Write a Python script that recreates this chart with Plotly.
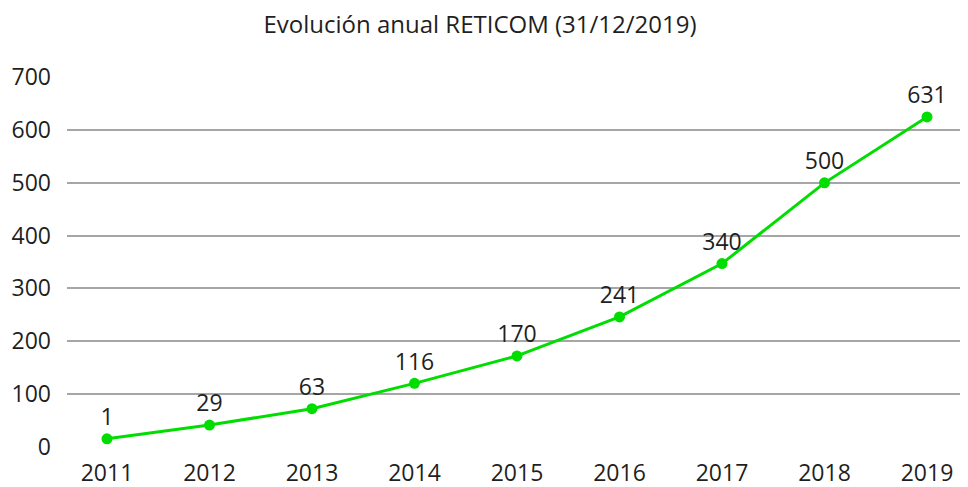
import plotly.graph_objects as go

years = ["2011", "2012", "2013", "2014", "2015", "2016", "2017", "2018", "2019"]
plotted_values = [15, 41, 72, 120, 172, 246, 347, 500, 625]
label_values = ["1", "29", "63", "116", "170", "241", "340", "500", "631"]
y_ticks = [0, 100, 200, 300, 400, 500, 600, 700]

FONT = "Open Sans"
TXT = "#1f1f1f"

# page body has an 8px default margin, so the figure is sized/placed to compensate
W, H = 960, 479

fig = go.Figure()
fig.add_trace(go.Scatter(
    x=years, y=plotted_values,
    mode="lines+markers+text",
    text=label_values,
    textposition="top center",
    textfont=dict(family=FONT, size=23, color=TXT),
    line=dict(color="#00DD00", width=3),
    marker=dict(color="#00DD00", size=11),
    cliponaxis=False,
    hoverinfo="skip",
))

fig.update_layout(
    width=W, height=H,
    margin=dict(l=59, r=0, t=69, b=40),
    paper_bgcolor="white", plot_bgcolor="white",
    showlegend=False,
    title=dict(text="Evolución anual RETICOM (31/12/2019)",
               x=472 / W, xanchor="center", y=1 - 17 / H, yanchor="middle",
               font=dict(family=FONT, size=24, color=TXT)),
    xaxis=dict(type="category", range=[-0.39, 8.4], showgrid=False,
               showline=False, zeroline=False, ticks="",
               ticklabelstandoff=10,
               tickfont=dict(family=FONT, size=23, color=TXT)),
    yaxis=dict(range=[-0.6, 700.6], tickvals=y_ticks, showgrid=True,
               gridcolor="#a6a6a6", gridwidth=1.5, zeroline=False,
               showline=False, ticks="", ticklabelstandoff=15,
               tickfont=dict(family=FONT, size=23, color=TXT)),
)

fig.write_html("out.html")
